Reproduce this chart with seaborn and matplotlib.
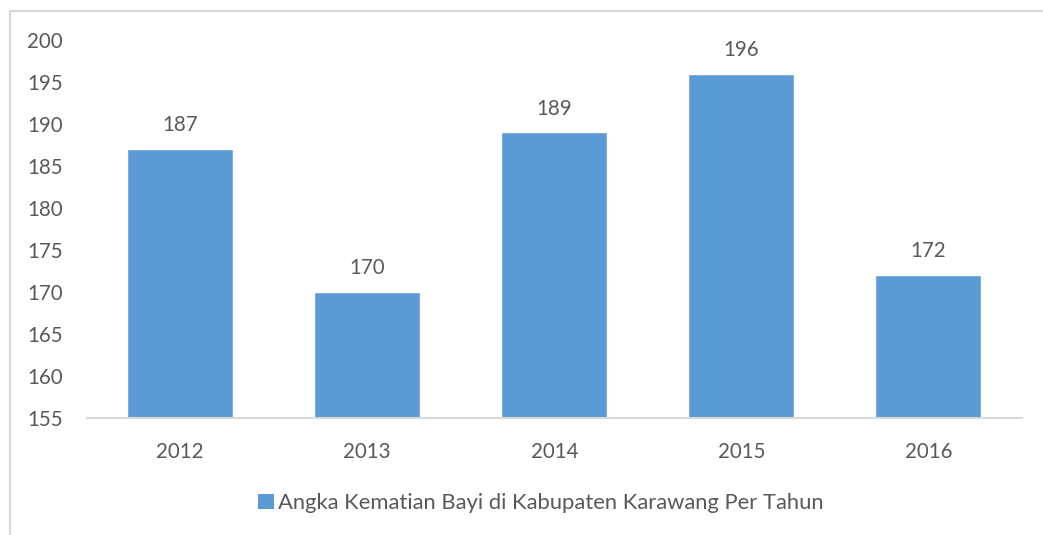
import matplotlib
matplotlib.use("Agg")
import matplotlib.pyplot as plt
from matplotlib.lines import Line2D
from matplotlib.patches import Patch
import seaborn as sns
import pandas as pd

years = ["2012", "2013", "2014", "2015", "2016"]
values = [187, 170, 189, 196, 172]
series_name = "Angka Kematian Bayi di Kabupaten Karawang Per Tahun"
y_ticks = [155, 160, 165, 170, 175, 180, 185, 190, 195, 200]

sns.set_theme(style="white")
plt.rcParams['font.family'] = ['Lato', 'DejaVu Sans']

W, H = 1043, 535
FS = 14.8
fig = plt.figure(figsize=(W / 100, H / 100), dpi=100)
ax = fig.add_axes([86.5 / W, 1 - 418 / H, (1022 - 86.5) / W, (418 - 40) / H])

df = pd.DataFrame({"year": years, "value": values})
bar_color = "#5B9BD5"
text_color = "#595959"
sns.barplot(data=df, x="year", y="value", color=bar_color, width=0.567,
            saturation=1, ax=ax)

ax.set_ylim(155, 200)
ax.set_yticks(y_ticks)
ax.set_xlim(-0.5, len(years) - 0.5)
ax.set_xlabel("")
ax.set_ylabel("")
for s in ["top", "right", "left"]:
    ax.spines[s].set_visible(False)
ax.spines["bottom"].set_color("#D9D9D9")
ax.spines["bottom"].set_linewidth(1.5)
ax.tick_params(axis="both", length=0, labelsize=FS, colors=text_color)
ax.tick_params(axis="x", pad=17)
ax.tick_params(axis="y", pad=42.5)
for lbl in ax.get_yticklabels():
    lbl.set_horizontalalignment("left")

for c in ax.containers:
    ax.bar_label(c, labels=[str(v) for v in values], padding=10,
                 fontsize=FS, color=text_color)

leg = fig.legend(handles=[Patch(facecolor=bar_color, edgecolor="none", label=series_name)],
                 loc="center", bbox_to_anchor=(541 / W, 1 - 503 / H), frameon=False,
                 fontsize=15.8, handlelength=0.7, handleheight=0.7, handletextpad=0.2,
                 labelcolor=text_color)

# chart border (light gray)
fig.add_artist(Line2D([10 / W, 1], [1 - 11 / H, 1 - 11 / H], color="#D9D9D9", lw=1.5,
                      transform=fig.transFigure))
fig.add_artist(Line2D([10 / W, 10 / W], [0, 1 - 11 / H], color="#D9D9D9", lw=1.5,
                      transform=fig.transFigure))

fig.savefig("out.png", dpi=100)
